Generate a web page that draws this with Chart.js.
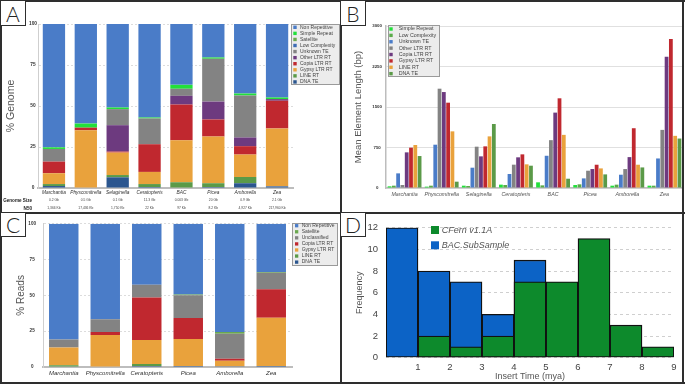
<!DOCTYPE html>
<html>
<head>
<meta charset="utf-8">
<script src="https://cdn.jsdelivr.net/npm/chart.js@4.4.1/dist/chart.umd.min.js"></script>
<style>
html,body{margin:0;padding:0;background:#fff;}
#fig{position:relative;width:685px;height:384px;overflow:hidden;background:#fff;font-family:"Liberation Sans",Arial,sans-serif;}
.cv{position:absolute;}
.cv canvas{display:block;}
.ln{position:absolute;background:#2e2e2e;}
.lab{position:absolute;box-sizing:border-box;border:1.5px solid #2e2e2e;background:#fff;display:flex;align-items:center;justify-content:center;font-family:Lato,"Liberation Sans",Arial,sans-serif;font-weight:300;font-size:21px;color:#222;}
</style>
</head>
<body>
<div id="fig">
  <div class="cv" style="left:2px;top:2px;"><canvas id="cA" width="338" height="210"></canvas></div>
  <div class="cv" style="left:342px;top:2px;"><canvas id="cB" width="342" height="210"></canvas></div>
  <div class="cv" style="left:2px;top:214px;"><canvas id="cC" width="338" height="168"></canvas></div>
  <div class="cv" style="left:342px;top:214px;"><canvas id="cD" width="340" height="168"></canvas></div>

  <div class="ln" style="left:0;top:0;width:685px;height:2px;"></div>
  <div class="ln" style="left:0;top:0;width:2px;height:384px;"></div>
  <div class="ln" style="left:682px;top:0;width:2px;height:384px;"></div>
  <div class="ln" style="left:0;top:382px;width:685px;height:2px;"></div>
  <div class="ln" style="left:340px;top:0;width:2px;height:384px;"></div>
  <div class="ln" style="left:0;top:212px;width:685px;height:2px;"></div>

  <div class="lab" style="left:0;top:0;width:26px;height:26px;">A</div>
  <div class="lab" style="left:340px;top:0;width:26px;height:26px;">B</div>
  <div class="lab" style="left:0;top:212px;width:26px;height:25px;">C</div>
  <div class="lab" style="left:340px;top:212px;width:26px;height:25px;">D</div>
</div>

<script>
// ================= DATA =================
// ---- Panel A: % Genome ----
const speciesA = ['Marchantia','Physcomitrella','Selaginella','Ceratopteris','BAC','Picea','Amborella','Zea'];
const genomeSizeA = ['0.2 Gb','0.5 Gb','0.1 Gb','11.3 Gb','0.003 Gb','20 Gb','0.9 Gb','2.1 Gb'];
const n50A = ['1,366 Kb','17,436 Kb','1,750 Kb','22 Kb','97 Kb','8.2 Kb','4,927 Kb','217,960 Kb'];
const ticksA = [0, 25, 50, 75, 100];
const aDnaTE        = [1.2, 0,    6.5,  0.6,  0,    0.6,  2.9,  1.0];
const aLineRT       = [1.2, 0,    1.4,  1.8,  3.5,  2.3,  3.8,  0];
const aGypsyLTR     = [6.6, 35.2, 13.7, 7.4,  25.6, 28.5, 13.7, 35.3];
const aCopiaLTR     = [7.1, 1.6,  0.6,  16.9, 21.8, 10.4, 5.1,  16.9];
const aOtherLTR     = [0,   0,    16.1, 0,    5.3,  10.9, 5.3,  1.0];
const aUnknownTE    = [7.7, 0,    9.8,  15.7, 4.3,  26.1, 25.6, 0];
const aLowComplex   = [0,   0,    0,    0,    0,    0,    0,    0];
const aSatellite    = [0,   0,    0,    0,    0,    0,    0,    0];
const aSimpleRepeat = [1.0, 2.5,  1.0,  0.6,  2.4,  0.8,  1.2,  1.0];
const aNonRepet     = [75.2, 60.7, 50.9, 57.0, 37.1, 20.4, 42.4, 44.8];

// ---- Panel B: Mean element length (bp) ----
const speciesB = ['Marchantia','Physcomitrella','Selaginella','Ceratopteris','BAC','Picea','Amborella','Zea'];
const ticksB = [0, 750, 1500, 2250, 3000];
const bSimpleRepeat = [31,  25,   43,   62,  105,  55,  43,   43];
const bLowComplex   = [43,  43,   37,   56,  49,   68,  62,   43];
const bUnknownTE    = [271, 802,  376,  259, 597,  178, 246,  547];
const bOtherLTR     = [56,  1839, 765,  432, 886,  320, 351,  1076];
const bCopiaLTR     = [660, 1777, 586,  568, 1396, 351, 572,  2429];
const bGypsyLTR     = [747, 1580, 771,  623, 1661, 431, 1107, 2761];
const bLineRT       = [796, 1049, 956,  438, 984,  363, 431,  966];
const bDnaTE        = [592, 117,  1185, 413, 172,  252, 381,  916];

// ---- Panel C: % Reads ----
const speciesC = ['Marchantia','Physcomitrella','Ceratopteris','Picea','Amborella','Zea'];
const ticksC = [0, 25, 50, 75, 100];
const cDnaTE        = [0,    0,    0.7,  0.7,  0.5,  0.7];
const cLineRT       = [1.2,  0,    1.4,  0,    0,    0];
const cGypsyLTR     = [12.4, 22.4, 16.8, 18.9, 3.9,  33.7];
const cCopiaLTR     = [0,    2.1,  29.6, 14.6, 1.4,  19.9];
const cUnclassified = [5.6,  8.8,  9.0,  15.9, 17.5, 11.5];
const cSatellite    = [0,    0,    0,    0.5,  1.2,  0.5];
const cNonRepet     = [80.8, 66.7, 42.5, 49.4, 75.5, 33.7];

// ---- Panel D: Insert time histogram ----
const dBinEdges = [0, 1, 2, 3, 4, 5, 6, 7, 8, 9];
const dCFern    = [0, 2, 1, 2, 7, 7, 11, 3, 1];
const dBAC      = [12, 8, 7, 4, 9, null, null, null, null];
const dXTicks   = [1, 2, 3, 4, 5, 6, 7, 8, 9];
const dYTicks   = [0, 2, 4, 6, 8, 10, 12];

// ================= STYLES =================
const COL = {
  nonRep: '#4a7cc8', simple: '#22e03a', satellite: '#6aa84f', lowComp: '#3e6cb4',
  unknown: '#838383', other: '#6d3a7f', copia: '#c0282f', gypsy: '#e9a23c',
  line: '#5b9a48', dna: '#2b568f', lowCompB: '#5aab4a',
  cfern: '#0d8a2c', bac: '#0c63c6'
};
const FAMILY = '"Liberation Sans", Arial, Helvetica, sans-serif';
Chart.defaults.font.family = FAMILY;

// custom boxed legend drawn from the datasets
const boxLegend = {
  id: 'boxLegend',
  afterDraw(chart, args, o) {
    if (!o || !o.x) return;
    const ctx = chart.ctx;
    let items = chart.data.datasets.map(d => ({label: d.label, color: d.backgroundColor}));
    if (o.reverse) items = items.slice().reverse();
    ctx.save();
    if (o.box) {
      ctx.fillStyle = o.bg;
      ctx.fillRect(o.box[0], o.box[1], o.box[2], o.box[3]);
      ctx.strokeStyle = o.border; ctx.lineWidth = 1;
      ctx.strokeRect(o.box[0] + 0.5, o.box[1] + 0.5, o.box[2] - 1, o.box[3] - 1);
    }
    ctx.font = o.font;
    ctx.textBaseline = 'middle'; ctx.textAlign = 'left';
    items.forEach((it, i) => {
      const y = o.y + i * o.row;
      ctx.fillStyle = it.color;
      ctx.fillRect(o.x, y - o.sw / 2, o.sw, o.sw);
      ctx.fillStyle = o.color;
      ctx.fillText(it.label, o.x + o.tx, y);
    });
    ctx.restore();
  }
};

// extra rows of text under the category axis (panel A)
const infoRows = {
  id: 'infoRows',
  afterDraw(chart, args, o) {
    if (!o || !o.rows) return;
    const ctx = chart.ctx, xs = chart.scales.x;
    ctx.save();
    ctx.textBaseline = 'middle';
    o.rows.forEach((row, r) => {
      ctx.font = o.font; ctx.fillStyle = o.color; ctx.textAlign = 'center';
      row.values.forEach((v, i) => ctx.fillText(v, xs.getPixelForValue(i), o.y[r]));
      ctx.font = o.headFont; ctx.fillStyle = o.headColor; ctx.textAlign = 'right';
      ctx.fillText(row.title, o.headX, o.y[r]);
    });
    ctx.restore();
  }
};

const setTicks = arr => s => { s.ticks = arr.map(v => ({value: v})); };
const plain = v => String(v);
const base = {responsive: false, animation: false, devicePixelRatio: 1, events: []};

// ================= PANEL A =================
new Chart(document.getElementById('cA'), {
  type: 'bar',
  data: {
    labels: speciesA,
    datasets: [
      {label: 'DNA TE', data: aDnaTE, backgroundColor: COL.dna},
      {label: 'LINE RT', data: aLineRT, backgroundColor: COL.line},
      {label: 'Gypsy LTR RT', data: aGypsyLTR, backgroundColor: COL.gypsy},
      {label: 'Copia LTR RT', data: aCopiaLTR, backgroundColor: COL.copia},
      {label: 'Other LTR RT', data: aOtherLTR, backgroundColor: COL.other},
      {label: 'Unknown TE', data: aUnknownTE, backgroundColor: COL.unknown},
      {label: 'Low Complexity', data: aLowComplex, backgroundColor: COL.lowComp},
      {label: 'Satellite', data: aSatellite, backgroundColor: COL.satellite},
      {label: 'Simple Repeat', data: aSimpleRepeat, backgroundColor: COL.simple},
      {label: 'Non Repetitive', data: aNonRepet, backgroundColor: COL.nonRep}
    ]
  },
  options: Object.assign({}, base, {
    layout: {padding: {left: 0, right: 47, top: 22, bottom: 0}},
    datasets: {bar: {categoryPercentage: 1, barPercentage: 0.7, borderWidth: 0}},
    plugins: {
      legend: {display: false}, tooltip: {enabled: false},
      boxLegend: {x: 291.3, y: 25.3, row: 6.07, sw: 3.4, tx: 6.7, reverse: true,
        font: '5px ' + FAMILY, color: '#444', box: [289, 22, 49, 61], bg: '#ececec', border: '#9a9a9a'},
      infoRows: {rows: [{title: 'Genome Size', values: genomeSizeA}, {title: 'N50', values: n50A}],
        y: [198.3, 206.3], headX: 30, font: '3.3px ' + FAMILY, color: '#444',
        headFont: 'bold 4.6px ' + FAMILY, headColor: '#222'}
    },
    scales: {
      x: {stacked: true, grid: {display: false, drawTicks: false}, border: {color: '#bdbdbd', width: 2},
        ticks: {font: {size: 4.8, style: 'italic'}, color: '#333', padding: 2, maxRotation: 0, minRotation: 0, autoSkip: false},
        afterFit: s => { s.height = 24; }},
      y: {stacked: true, min: 0, max: 100, afterBuildTicks: setTicks(ticksA),
        ticks: {font: {size: 4.8, weight: 'bold'}, color: '#333', padding: 1, crossAlign: 'center', callback: plain},
        grid: {color: '#dcdcdc', drawTicks: false}, border: {color: '#cfcfcf', dash: [2, 2]},
        title: {display: true, text: '% Genome', font: {size: 10.5}, color: '#555', padding: {top: 3, bottom: 0}},
        afterFit: s => { s.width = 36; }}
    }
  }),
  plugins: [boxLegend, infoRows]
});

// ================= PANEL B =================
new Chart(document.getElementById('cB'), {
  type: 'bar',
  data: {
    labels: speciesB,
    datasets: [
      {label: 'Simple Repeat', data: bSimpleRepeat, backgroundColor: COL.simple},
      {label: 'Low Complexity', data: bLowComplex, backgroundColor: COL.lowCompB},
      {label: 'Unknown TE', data: bUnknownTE, backgroundColor: COL.nonRep},
      {label: 'Other LTR RT', data: bOtherLTR, backgroundColor: COL.unknown},
      {label: 'Copia LTR RT', data: bCopiaLTR, backgroundColor: COL.other},
      {label: 'Gypsy LTR RT', data: bGypsyLTR, backgroundColor: COL.copia},
      {label: 'LINE RT', data: bLineRT, backgroundColor: COL.gypsy},
      {label: 'DNA TE', data: bDnaTE, backgroundColor: COL.line}
    ]
  },
  options: Object.assign({}, base, {
    layout: {padding: {left: 0, right: 1, top: 24, bottom: 0}},
    datasets: {bar: {categoryPercentage: 0.925, barPercentage: 0.88, borderWidth: 0}},
    plugins: {
      legend: {display: false}, tooltip: {enabled: false},
      boxLegend: {x: 47.3, y: 27, row: 6.38, sw: 3.4, tx: 9.4,
        font: '5.3px ' + FAMILY, color: '#444', box: [46, 23, 52, 52], bg: '#ececec', border: '#9a9a9a'}
    },
    scales: {
      x: {grid: {display: false, drawTicks: false}, border: {color: '#bdbdbd', width: 1.5},
        ticks: {font: {size: 5.3, style: 'italic'}, color: '#555', padding: 3, maxRotation: 0, minRotation: 0, autoSkip: false},
        afterFit: s => { s.height = 24; }},
      y: {min: 0, max: 3000, afterBuildTicks: setTicks(ticksB),
        ticks: {font: {size: 4.4, weight: 'bold'}, color: '#333', padding: 4, crossAlign: 'center', callback: plain},
        grid: {color: '#e0e0e0', drawTicks: false}, border: {color: '#bdbdbd', width: 1.5},
        title: {display: true, text: 'Mean Element Length (bp)', font: {size: 9.5}, color: '#555', padding: {top: 10.5, bottom: 0}},
        afterFit: s => { s.width = 44; }}
    }
  }),
  plugins: [boxLegend]
});

// ================= PANEL C =================
new Chart(document.getElementById('cC'), {
  type: 'bar',
  data: {
    labels: speciesC,
    datasets: [
      {label: 'DNA TE', data: cDnaTE, backgroundColor: COL.dna},
      {label: 'LINE RT', data: cLineRT, backgroundColor: COL.line},
      {label: 'Gypsy LTR RT', data: cGypsyLTR, backgroundColor: COL.gypsy},
      {label: 'Copia LTR RT', data: cCopiaLTR, backgroundColor: COL.copia},
      {label: 'Unclassified', data: cUnclassified, backgroundColor: COL.unknown},
      {label: 'Satellite', data: cSatellite, backgroundColor: COL.satellite},
      {label: 'Non Repetitive', data: cNonRepet, backgroundColor: COL.nonRep}
    ]
  },
  options: Object.assign({}, base, {
    layout: {padding: {left: 0, right: 48, top: 9, bottom: 0}},
    datasets: {bar: {categoryPercentage: 1, barPercentage: 0.71, borderWidth: 0}},
    plugins: {
      legend: {display: false}, tooltip: {enabled: false},
      boxLegend: {x: 293, y: 11.7, row: 6.07, sw: 3.3, tx: 6.7, reverse: true,
        font: '5px ' + FAMILY, color: '#444', box: [290, 9, 46, 43], bg: '#ececec', border: '#9a9a9a'}
    },
    scales: {
      x: {stacked: true, grid: {display: false, drawTicks: false}, border: {color: '#bdbdbd', width: 2},
        ticks: {font: {size: 6, style: 'italic'}, color: '#333', padding: 3, maxRotation: 0, minRotation: 0, autoSkip: false},
        afterFit: s => { s.height = 15; }},
      y: {stacked: true, min: 0, max: 100, afterBuildTicks: setTicks(ticksC),
        ticks: {font: {size: 4.6, weight: 'bold'}, color: '#333', padding: 7, crossAlign: 'center', callback: plain},
        grid: {color: '#dcdcdc', drawTicks: false}, border: {color: '#cfcfcf', dash: [2, 2]},
        title: {display: true, text: '% Reads', font: {size: 10}, color: '#555', padding: {top: 13.5, bottom: 0}},
        afterFit: s => { s.width = 41; }}
    }
  }),
  plugins: [boxLegend]
});

// ================= PANEL D =================
const binPoints = counts => counts.map((c, i) => ({x: (dBinEdges[i] + dBinEdges[i + 1]) / 2, y: c}));
new Chart(document.getElementById('cD'), {
  type: 'bar',
  data: {
    datasets: [
      {label: 'CFern v1.1A', data: binPoints(dCFern), backgroundColor: COL.cfern},
      {label: 'BAC.SubSample', data: binPoints(dBAC), backgroundColor: COL.bac}
    ]
  },
  options: Object.assign({}, base, {
    layout: {padding: {left: 0, right: 8, top: 11, bottom: 0}},
    datasets: {bar: {categoryPercentage: 1, barPercentage: 1, grouped: false,
      borderWidth: 1.3, borderColor: '#111', borderSkipped: false}},
    plugins: {
      legend: {display: false}, tooltip: {enabled: false},
      boxLegend: {x: 89, y: 16, row: 15.3, sw: 8, tx: 10.7,
        font: 'italic 9px ' + FAMILY, color: '#555'}
    },
    scales: {
      x: {type: 'linear', min: 0, max: 9, offset: false, afterBuildTicks: setTicks(dXTicks),
        grid: {display: false, drawTicks: false, offset: false}, border: {display: false},
        ticks: {font: {size: 9.5}, color: '#444', padding: 4, maxRotation: 0, autoSkip: false, callback: plain},
        title: {display: true, text: 'Insert Time (mya)', font: {size: 9}, color: '#555', padding: {top: 0, bottom: 0}},
        afterFit: s => { s.height = 24.3; }},
      y: {min: 0, max: 12, afterBuildTicks: setTicks(dYTicks),
        ticks: {font: {size: 9.5}, color: '#444', padding: 8, callback: plain},
        grid: {color: '#cfcfcf', drawTicks: false}, border: {display: false, dash: [3, 3]},
        title: {display: true, text: 'Frequency', font: {size: 9}, color: '#555', padding: {top: 12.3, bottom: 0}},
        afterFit: s => { s.width = 44; }}
    }
  }),
  plugins: [boxLegend]
});
</script>
</body>
</html>
